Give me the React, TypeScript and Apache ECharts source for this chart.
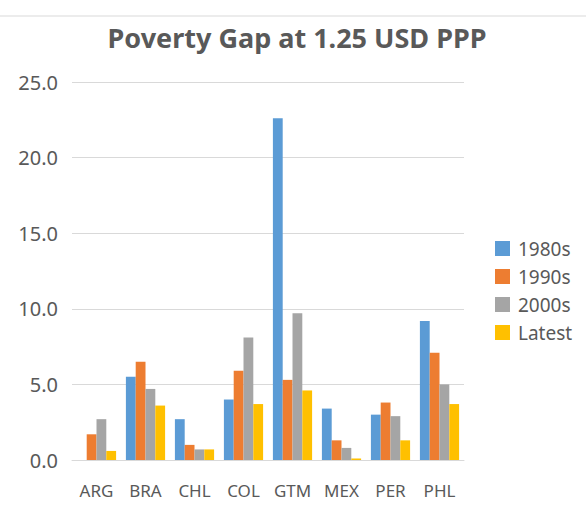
import React, { useEffect, useRef } from "react";
import * as echarts from "echarts";

const categories = ["ARG", "BRA", "CHL", "COL", "GTM", "MEX", "PER", "PHL"];
const s1980s = [null, 5.5, 2.7, 4.0, 22.6, 3.4, 3.0, 9.2];
const s1990s = [1.7, 6.5, 1.0, 5.9, 5.3, 1.3, 3.8, 7.1];
const s2000s = [2.7, 4.7, 0.7, 8.1, 9.7, 0.8, 2.9, 5.0];
const sLatest = [0.6, 3.6, 0.7, 3.7, 4.6, 0.1, 1.3, 3.7];
const seriesNames = ["1980s", "1990s", "2000s", "Latest"];
const colors = ["#5B9BD5", "#ED7D31", "#A5A5A5", "#FFC000"];

export default function App() {
  const ref = useRef<HTMLDivElement>(null);
  useEffect(() => {
    if (!ref.current) return;
    const chart = echarts.init(ref.current, null, { renderer: "svg" });
    const data = [s1980s, s1990s, s2000s, sLatest];
    const font = "'Noto Sans', sans-serif";
    chart.setOption({
      animation: false,
      backgroundColor: "#ffffff",
      color: colors,
      title: {
        text: "Poverty Gap at 1.25 USD PPP",
        left: 292,
        textAlign: "center",
        top: 19,
        textStyle: { fontFamily: font, fontSize: 27, fontWeight: "bold", color: "#595959" },
      },
      graphic: [
        { type: "line", shape: { x1: 0, y1: 16, x2: 586, y2: 16 }, style: { stroke: "#d9d9d9", lineWidth: 1 } },
      ],
      legend: {
        orient: "vertical",
        left: 490,
        top: 233,
        itemWidth: 15,
        itemHeight: 15,
        itemGap: 7,
        icon: "rect",
        textStyle: { fontFamily: font, fontSize: 19, color: "#595959", lineHeight: 21, padding: [0, 0, 0, 3] },
        data: seriesNames,
      },
      grid: { left: 72, right: 122, top: 82, bottom: 60, containLabel: false },
      xAxis: {
        type: "category",
        data: categories,
        axisLine: { show: true, lineStyle: { color: "#d9d9d9" } },
        axisTick: { show: false },
        axisLabel: { fontFamily: font, fontSize: 17, color: "#595959", margin: 22, interval: 0 },
      },
      yAxis: {
        type: "value",
        min: 0,
        max: 25,
        interval: 5,
        axisLine: { show: false },
        axisTick: { show: false },
        splitLine: { lineStyle: { color: "#d9d9d9", width: 1 } },
        axisLabel: {
          fontFamily: font,
          fontSize: 20,
          color: "#595959",
          margin: 14,
          formatter: (v: number) => v.toFixed(1),
        },
      },
      series: seriesNames.map((name, i) => ({
        name,
        type: "bar",
        data: data[i],
        barGap: "0%",
        barCategoryGap: "20%",
        itemStyle: { color: colors[i] },
      })),
    });
    return () => chart.dispose();
  }, []);
  return <div ref={ref} style={{ width: 586, height: 520, position: "absolute", left: 0, top: 0 }} />;
}
